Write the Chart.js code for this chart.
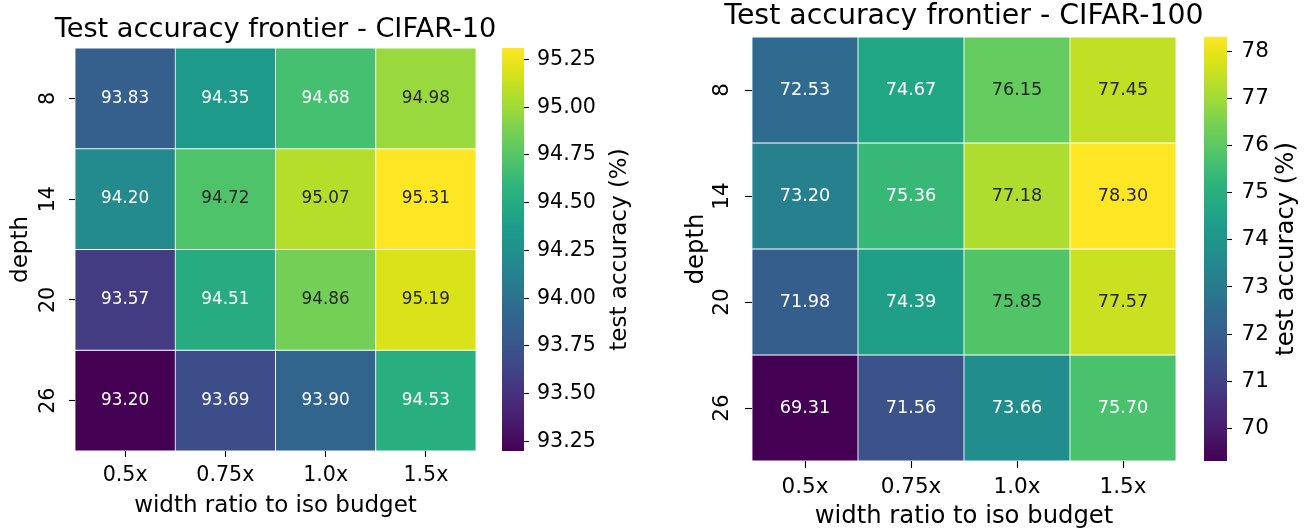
<!DOCTYPE html>
<html>
<head>
<meta charset="utf-8">
<script src="https://cdn.jsdelivr.net/npm/chart.js@4.4.1/dist/chart.umd.min.js"></script>
<style>
  body { margin: 0; background: #fff; width: 1305px; height: 531px; position: relative; overflow: hidden; }
  canvas { position: absolute; top: 0; }
</style>
</head>
<body>
<canvas id="hm10" width="551" height="531" style="left:0px"></canvas>
<canvas id="cb10" width="160" height="531" style="left:490px"></canvas>
<canvas id="hm100" width="608" height="531" style="left:660px"></canvas>
<canvas id="cb100" width="115" height="531" style="left:1190px"></canvas>
<script>
/* ---- data ---- */
const widthLabels = ['0.5x', '0.75x', '1.0x', '1.5x'];
const depthLabels = ['8', '14', '20', '26'];

const cifar10Acc = [
  [93.83, 94.35, 94.68, 94.98],
  [94.20, 94.72, 95.07, 95.31],
  [93.57, 94.51, 94.86, 95.19],
  [93.20, 93.69, 93.90, 94.53]
];
const cifar100Acc = [
  [72.53, 74.67, 76.15, 77.45],
  [73.20, 75.36, 77.18, 78.30],
  [71.98, 74.39, 75.85, 77.57],
  [69.31, 71.56, 73.66, 75.70]
];

const cifar10Ticks = [93.25, 93.50, 93.75, 94.00, 94.25, 94.50, 94.75, 95.00, 95.25];
const cifar100Ticks = [70, 71, 72, 73, 74, 75, 76, 77, 78];

/* ---- viridis colormap ---- */
const VIRIDIS = ['#440154', '#471365', '#482475', '#46337f', '#414487', '#3b528b', '#355f8d',
  '#30698e', '#2a788e', '#25848e', '#21918c', '#1e9b8a', '#22a884', '#2db27d', '#44bf70',
  '#5ec962', '#7ad151', '#9fda3a', '#bddf26', '#dfe318', '#fde725'];

function hexRgb(h) {
  return [parseInt(h.slice(1, 3), 16), parseInt(h.slice(3, 5), 16), parseInt(h.slice(5, 7), 16)];
}
function viridis(t) {
  t = Math.max(0, Math.min(1, t)) * (VIRIDIS.length - 1);
  const i = Math.min(Math.floor(t), VIRIDIS.length - 2), f = t - i;
  const a = hexRgb(VIRIDIS[i]), b = hexRgb(VIRIDIS[i + 1]);
  return 'rgb(' + a.map((c, k) => Math.round(c + (b[k] - c) * f)).join(',') + ')';
}
// seaborn style: dark text on light cells
function textColor(rgb) {
  const c = rgb.match(/\d+/g).map(v => {
    v /= 255;
    return v <= 0.03928 ? v / 12.92 : Math.pow((v + 0.055) / 1.055, 2.4);
  });
  const lum = 0.2126 * c[0] + 0.7152 * c[1] + 0.0722 * c[2];
  return lum > 0.408 ? '#262626' : '#ffffff';
}

const FAMILY = '"DejaVu Sans", sans-serif';

/* ---- plugins ---- */
const cellLabels = {
  id: 'cellLabels',
  afterDatasetsDraw(chart, args, opts) {
    const { ctx } = chart;
    ctx.save();
    ctx.font = opts.size + 'px ' + FAMILY;
    ctx.textAlign = 'center';
    ctx.textBaseline = 'middle';
    chart.data.datasets.forEach((ds, i) => {
      chart.getDatasetMeta(i).data.forEach((bar, j) => {
        const { x, y, base } = bar.getProps(['x', 'y', 'base'], true);
        ctx.fillStyle = textColor(ds.backgroundColor[j]);
        ctx.fillText(ds.acc[j].toFixed(2), x, (y + base) / 2);
      });
    });
    ctx.restore();
  }
};

const cbLabel = {
  id: 'cbLabel',
  afterDraw(chart, args, opts) {
    const { ctx, chartArea } = chart;
    ctx.save();
    ctx.translate(opts.x, (chartArea.top + chartArea.bottom) / 2);
    ctx.rotate(-Math.PI / 2);
    ctx.font = opts.size + 'px ' + FAMILY;
    ctx.fillStyle = '#000';
    ctx.textAlign = 'center';
    ctx.textBaseline = 'middle';
    ctx.fillText(opts.text, 0, 0);
    ctx.restore();
  }
};

/* ---- heatmap ---- */
function renderHeatmap(canvasId, acc, title, L) {
  const flat = acc.flat();
  const lo = Math.min(...flat), hi = Math.max(...flat);
  const datasets = acc.map((row, r) => ({
    data: row.map(() => [r, r + 1]),
    acc: row,
    backgroundColor: row.map(v => viridis((v - lo) / (hi - lo))),
    borderColor: '#ffffff',
    borderWidth: 0.75,
    borderSkipped: false,
    grouped: false,
    barPercentage: 1,
    categoryPercentage: 1
  }));
  const tickFont = { family: FAMILY, size: L.tickSize };
  const labFont = { family: FAMILY, size: L.labelSize, lineHeight: 1.2 };
  return new Chart(document.getElementById(canvasId), {
    type: 'bar',
    data: { labels: widthLabels, datasets },
    options: {
      responsive: false, animation: false,
      layout: { padding: 0 },
      plugins: {
        legend: { display: false },
        tooltip: { enabled: false },
        title: {
          display: true, text: title, color: '#000',
          font: { family: FAMILY, size: L.titleSize, weight: 'normal', lineHeight: 1 },
          padding: { top: L.titleTop, bottom: L.titleBottom }
        },
        cellLabels: { size: L.annotSize }
      },
      scales: {
        x: {
          type: 'category', offset: true,
          grid: { offset: false, drawOnChartArea: false, tickLength: L.tick, tickColor: '#000', tickWidth: 1.1 },
          border: { display: false },
          ticks: { color: '#000', font: tickFont, padding: L.xPad, maxRotation: 0 },
          title: { display: true, text: 'width ratio to iso budget', color: '#000', font: labFont,
                   padding: { top: 0, bottom: L.xTitleBottom } },
          afterFit: s => { s.height = L.xHeight; }
        },
        y: {
          type: 'linear', min: 0, max: 4, reverse: true,
          afterBuildTicks: s => { s.ticks = depthLabels.map((_, i) => ({ value: i + 0.5 })); },
          grid: { drawOnChartArea: false, tickLength: L.tick, tickColor: '#000', tickWidth: 1.1 },
          border: { display: false },
          ticks: { color: '#000', font: tickFont, padding: L.yPad, minRotation: 90, maxRotation: 90,
                   crossAlign: 'center', callback: (v, i) => depthLabels[i] },
          title: { display: true, text: 'depth', color: '#000', font: labFont,
                   padding: { top: L.yTitleTop, bottom: 0 } },
          afterFit: s => { s.width = L.yWidth; }
        },
        // empty right-hand spacer so the title centres over the cells
        spacer: {
          type: 'linear', position: 'right', display: true,
          grid: { display: false }, ticks: { display: false }, border: { display: false },
          afterFit: s => { s.width = L.yWidth; }
        }
      }
    },
    plugins: [cellLabels]
  });
}

/* ---- colorbar ---- */
function renderColorbar(canvasId, acc, ticks, L) {
  const flat = acc.flat();
  const lo = Math.min(...flat), hi = Math.max(...flat);
  return new Chart(document.getElementById(canvasId), {
    type: 'bar',
    data: {
      labels: [''],
      datasets: [{
        data: [[lo, hi]],
        borderWidth: 0, barPercentage: 1, categoryPercentage: 1,
        backgroundColor: c => {
          const area = c.chart.chartArea;
          if (!area) return VIRIDIS[0];
          const g = c.chart.ctx.createLinearGradient(0, area.bottom, 0, area.top);
          VIRIDIS.forEach((col, k) => g.addColorStop(k / (VIRIDIS.length - 1), col));
          return g;
        }
      }]
    },
    options: {
      responsive: false, animation: false,
      layout: { padding: { left: L.padLeft, right: 0, top: L.top, bottom: L.bottom } },
      plugins: {
        legend: { display: false },
        tooltip: { enabled: false },
        cbLabel: { text: 'test accuracy (%)', x: L.labelX, size: L.labelSize }
      },
      scales: {
        x: { display: false },
        y: {
          position: 'right', min: lo, max: hi,
          afterBuildTicks: s => { s.ticks = ticks.map(v => ({ value: v })); },
          grid: { drawOnChartArea: false, tickLength: 5, tickColor: '#000', tickWidth: 1.1 },
          border: { display: false },
          ticks: { color: '#000', font: { family: FAMILY, size: L.tickSize }, padding: L.pad,
                   callback: v => v.toFixed(L.decimals) },
          afterFit: s => { s.width = L.axisWidth; }
        }
      }
    },
    plugins: [cbLabel]
  });
}

renderHeatmap('hm10', cifar10Acc, 'Test accuracy frontier - CIFAR-10', {
  titleSize: 27.2, titleTop: 16.4, titleBottom: 4.4,
  tickSize: 20.6, labelSize: 23, annotSize: 16.8, tick: 6,
  xPad: 6.5, xTitleBottom: 11.2, xHeight: 80,
  yPad: 7.4, yTitleTop: 7.5, yWidth: 75
});
renderColorbar('cb10', cifar10Acc, cifar10Ticks, {
  padLeft: 12, top: 48, bottom: 80, axisWidth: 126, pad: 8,
  tickSize: 20.6, labelSize: 23, labelX: 130, decimals: 2
});
renderHeatmap('hm100', cifar100Acc, 'Test accuracy frontier - CIFAR-100', {
  titleSize: 28.4, titleTop: 2.3, titleBottom: 6.3,
  tickSize: 21.5, labelSize: 24.3, annotSize: 17.7, tick: 7,
  xPad: 6.1, xTitleBottom: 0, xHeight: 70,
  yPad: 8.5, yTitleTop: 22, yWidth: 92
});
renderColorbar('cb100', cifar100Acc, cifar100Ticks, {
  padLeft: 14, top: 37, bottom: 70, axisWidth: 78, pad: 9.5,
  tickSize: 21.5, labelSize: 24.3, labelX: 97, decimals: 0
});
</script>
</body>
</html>
